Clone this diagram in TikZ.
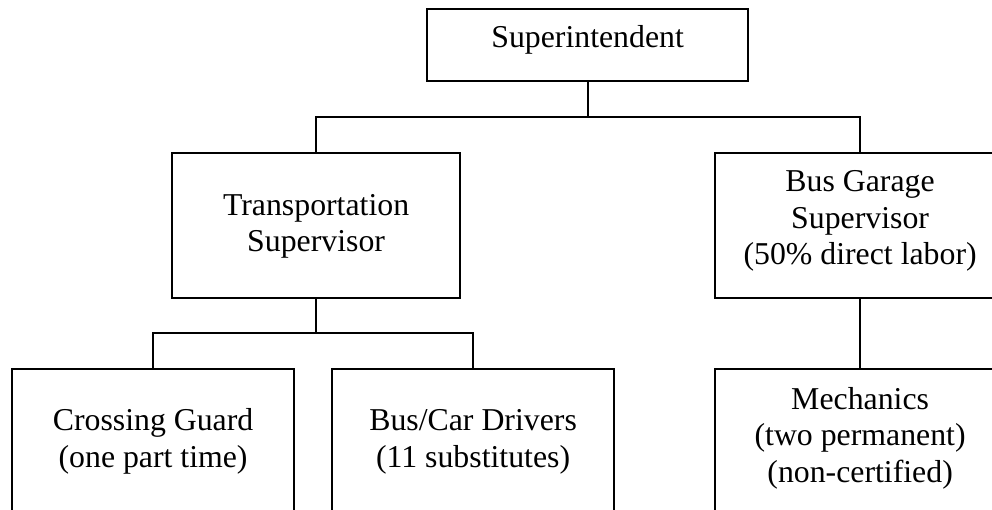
\documentclass[tikz,border=0pt]{standalone}
\usepackage{fontspec}
\setmainfont{Liberation Serif}
\begin{document}
\begin{tikzpicture}[x=1pt,y=-1pt,
  box/.style={draw=black, line width=2.2pt, fill=white, rectangle, inner sep=0pt},
  lbl/.style={font=\fontsize{31.8}{36.5}\selectfont, align=center, inner sep=0pt, anchor=base},
  wire/.style={draw=black, line width=2.2pt}]
\useasboundingbox (0,0) rectangle (992,510);
\clip (0,0) rectangle (992,510);
\fill[white] (0,0) rectangle (992,510);
% boxes
\node[box, minimum width=321pt, minimum height=72pt, anchor=north west] (sup) at (426,8) {};
\node[box, minimum width=288pt, minimum height=145pt, anchor=north west] (trans) at (171,152) {};
\node[box, minimum width=290pt, minimum height=145pt, anchor=north west] (garage) at (714,152) {};
\node[box, minimum width=282pt, minimum height=170pt, anchor=north west] (guard) at (11,368) {};
\node[box, minimum width=282pt, minimum height=170pt, anchor=north west] (drivers) at (331,368) {};
\node[box, minimum width=290pt, minimum height=170pt, anchor=north west] (mech) at (714,368) {};
% labels (anchor = baseline of last line)
\node[lbl] (supT) at (sup.north |- 0,48) {Superintendent};
\node[lbl] (transT) at (trans.north |- 0,252) {Transportation\\Supervisor};
\node[lbl] (garageT) at (garage.north |- 0,265) {Bus Garage\\Supervisor\\(50\% direct labor)};
\node[lbl] (guardT) at (guard.north |- 0,467) {Crossing Guard\\(one part time)};
\node[lbl] (driversT) at (drivers.north |- 0,467) {Bus/Car Drivers\\(11 substitutes)};
\node[lbl] (mechT) at (mech.north |- 0,482) {Mechanics\\(two permanent)\\(non-certified)};
% connectors
\coordinate (j1) at (sup.south |- 0,117);
\draw[wire] (sup.south) -- (j1);
\draw[wire] (trans.north) |- (j1) -| (garage.north);
\coordinate (j2) at (trans.south |- 0,333);
\draw[wire] (trans.south) -- (j2);
\draw[wire] (guard.north) |- (j2) -| (drivers.north);
\draw[wire] (garage.south) -- (mech.north);
\end{tikzpicture}
\end{document}
